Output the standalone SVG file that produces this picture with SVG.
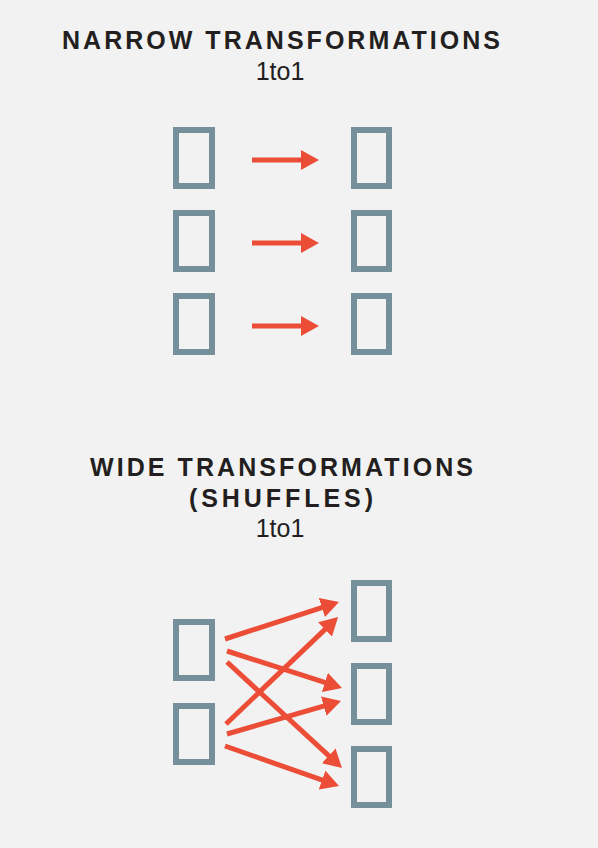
<svg xmlns="http://www.w3.org/2000/svg" width="598" height="848" viewBox="0 0 598 848">
<style>
.bg{fill:#f2f2f2}
.box{fill:none;stroke:#758f9b;stroke-width:6}
.arr{stroke:#ec4d37;stroke-width:5;fill:none;marker-end:url(#ah)}
.title{font-family:"Liberation Sans",Arial,sans-serif;font-weight:bold;font-size:25px;fill:#231f20;text-anchor:middle}
.sub{font-family:"Liberation Sans",Arial,sans-serif;font-size:25px;fill:#231f20;text-anchor:middle}
</style>
<defs>
<marker id="ah" markerUnits="userSpaceOnUse" markerWidth="18" markerHeight="20" refX="8" refY="10" orient="auto">
<path d="M0,0 L18,10 L0,20 Z" fill="#ec4d37"/>
</marker>
</defs>
<rect class="bg" x="0" y="0" width="598" height="848"/>
<g id="narrow-title">
<text class="title" x="281" y="49" textLength="438" lengthAdjust="spacing">NARROW TRANSFORMATIONS</text>
<text class="sub" x="280" y="80">1to1</text>
</g>
<g id="n-left-1"><rect class="box" x="176" y="130" width="36" height="56"/></g>
<g id="n-left-2"><rect class="box" x="176" y="213" width="36" height="56"/></g>
<g id="n-left-3"><rect class="box" x="176" y="296" width="36" height="56"/></g>
<g id="n-right-1"><rect class="box" x="354" y="130" width="35" height="56"/></g>
<g id="n-right-2"><rect class="box" x="354" y="213" width="35" height="56"/></g>
<g id="n-right-3"><rect class="box" x="354" y="296" width="35" height="56"/></g>
<g id="wide-title">
<text class="title" x="281.5" y="476" textLength="383" lengthAdjust="spacing">WIDE TRANSFORMATIONS</text>
<text class="title" x="281" y="507" textLength="184" lengthAdjust="spacing">(SHUFFLES)</text>
<text class="sub" x="280" y="537">1to1</text>
</g>
<g id="w-left-1"><rect class="box" x="176" y="622" width="36" height="56"/></g>
<g id="w-left-2"><rect class="box" x="176" y="706" width="36" height="56"/></g>
<g id="w-right-1"><rect class="box" x="354" y="583" width="35" height="56"/></g>
<g id="w-right-2"><rect class="box" x="354" y="666" width="35" height="56"/></g>
<g id="w-right-3"><rect class="box" x="354" y="749" width="35" height="56"/></g>
<g id="connectors">
<line class="arr" x1="252" y1="160" x2="309" y2="160"/>
<line class="arr" x1="252" y1="243" x2="309" y2="243"/>
<line class="arr" x1="252" y1="326" x2="309" y2="326"/>
<line class="arr" x1="225" y1="639" x2="329.5" y2="605.1"/>
<line class="arr" x1="227" y1="651" x2="332.5" y2="684.9"/>
<line class="arr" x1="227" y1="662" x2="334.6" y2="761.2"/>
<line class="arr" x1="226" y1="724" x2="330.8" y2="623.9"/>
<line class="arr" x1="227" y1="734" x2="331.4" y2="703.8"/>
<line class="arr" x1="225" y1="746" x2="329.6" y2="782.7"/>
</g>
</svg>
